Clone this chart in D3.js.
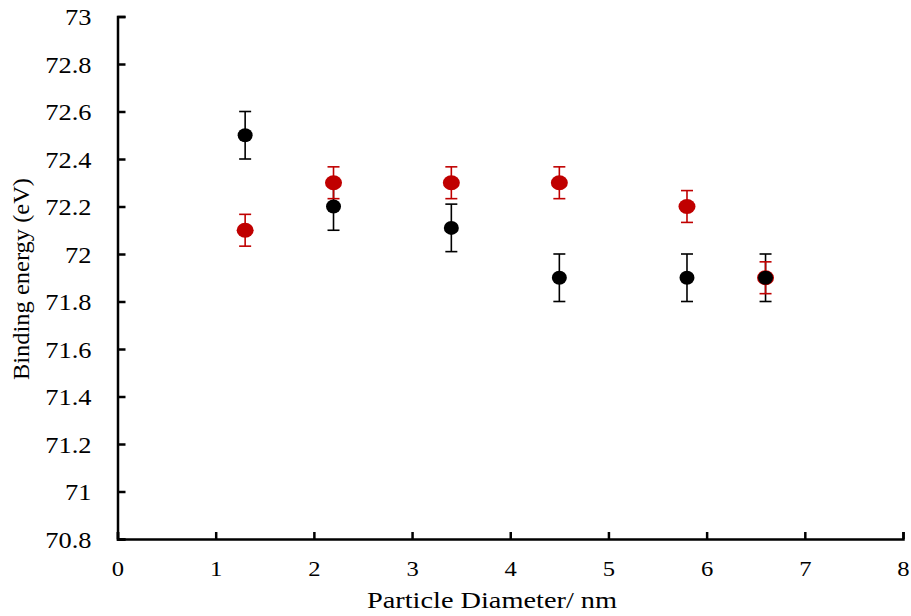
<!DOCTYPE html>
<html>
<head>
<meta charset="utf-8">
<script src="https://cdn.jsdelivr.net/npm/d3@7"></script>
<style>
  html, body { margin: 0; padding: 0; background: #fff; }
  text { font-family: "Liberation Serif", "Times New Roman", serif; fill: #000; }
</style>
</head>
<body>
<svg id="chart" width="911" height="616"></svg>
<script>
// ---- data ----
const diameters = [1.3, 2.2, 3.4, 4.5, 5.8, 6.6];
const blackValues = [72.5, 72.2, 72.11, 71.9, 71.9, 71.9];
const blackErrors = [0.1, 0.1, 0.1, 0.1, 0.1, 0.1];
const redValues = [72.1, 72.3, 72.3, 72.3, 72.2, 71.9];
const redErrors = [0.067, 0.067, 0.067, 0.067, 0.067, 0.067];
const xTicks = [0, 1, 2, 3, 4, 5, 6, 7, 8];
const yTicks = [70.8, 71, 71.2, 71.4, 71.6, 71.8, 72, 72.2, 72.4, 72.6, 72.8, 73];
const xTitle = "Particle Diameter/ nm";
const yTitle = "Binding energy (eV)";

const svg = d3.select("#chart");
const mLeft = 117.5, mRight = 903, mTop = 16.5, mBottom = 539;

const x = d3.scaleLinear().domain([0, 8]).range([mLeft, mRight]);
const y = d3.scaleLinear().domain([70.8, 73]).range([mBottom, mTop]);

// axes
const xAxis = d3.axisBottom(x).tickValues(xTicks).tickSize(-7).tickPadding(0).tickFormat(d3.format("d"));
const yAxis = d3.axisLeft(y).tickValues(yTicks).tickSize(-8).tickPadding(0).tickFormat(d => String(+d.toFixed(1)));

const gx = svg.append("g").attr("transform", `translate(0,${mBottom})`).call(xAxis);
const gy = svg.append("g").attr("transform", `translate(${mLeft},0)`).call(yAxis);

[gx, gy].forEach(g => {
  g.select(".domain").attr("stroke", "#000").attr("stroke-width", 2.5);
  g.selectAll(".tick line").attr("stroke", "#000").attr("stroke-width", 2.5);
});
gx.selectAll(".tick text")
  .attr("font-size", 22).attr("font-family", "Liberation Serif").attr("fill", "#000")
  .attr("y", 0).attr("dy", 0)
  .attr("transform", "translate(0,37) scale(1.12,1)");
gy.selectAll(".tick text")
  .attr("font-size", 24).attr("font-family", "Liberation Serif").attr("fill", "#000")
  .attr("x", 0).attr("dy", "0.34em")
  .attr("text-anchor", "end")
  .attr("transform", "translate(-26,0) scale(1.1,1)");

// titles
svg.append("text")
  .attr("x", 367).attr("y", 608)
  .attr("font-size", 23)
  .attr("textLength", 250).attr("lengthAdjust", "spacingAndGlyphs")
  .text(xTitle);
svg.append("text")
  .attr("transform", "translate(29,380) rotate(-90)")
  .attr("x", 0).attr("y", 0)
  .attr("font-size", 23)
  .attr("textLength", 202).attr("lengthAdjust", "spacingAndGlyphs")
  .text(yTitle);

function errorBars(values, errors, color, cap) {
  const g = svg.append("g").attr("stroke", color).attr("stroke-width", 1.6).attr("fill", "none");
  diameters.forEach((d, i) => {
    const cx = x(d), y1 = y(values[i] + errors[i]), y0 = y(values[i] - errors[i]);
    g.append("line").attr("x1", cx).attr("x2", cx).attr("y1", y1).attr("y2", y0);
    g.append("line").attr("x1", cx - cap).attr("x2", cx + cap).attr("y1", y1).attr("y2", y1);
    g.append("line").attr("x1", cx - cap).attr("x2", cx + cap).attr("y1", y0).attr("y2", y0);
  });
}
function dots(values, color, rx, ry) {
  svg.append("g").selectAll("ellipse").data(values).join("ellipse")
    .attr("cx", (v, i) => x(diameters[i])).attr("cy", v => y(v))
    .attr("rx", rx).attr("ry", ry).attr("fill", color);
}

errorBars(blackValues, blackErrors, "#000", 6);
errorBars(redValues, redErrors, "#c00000", 6);
dots(redValues, "#c00000", 8.5, 7.5);
dots(blackValues, "#000", 7.5, 7);
</script>
</body>
</html>
